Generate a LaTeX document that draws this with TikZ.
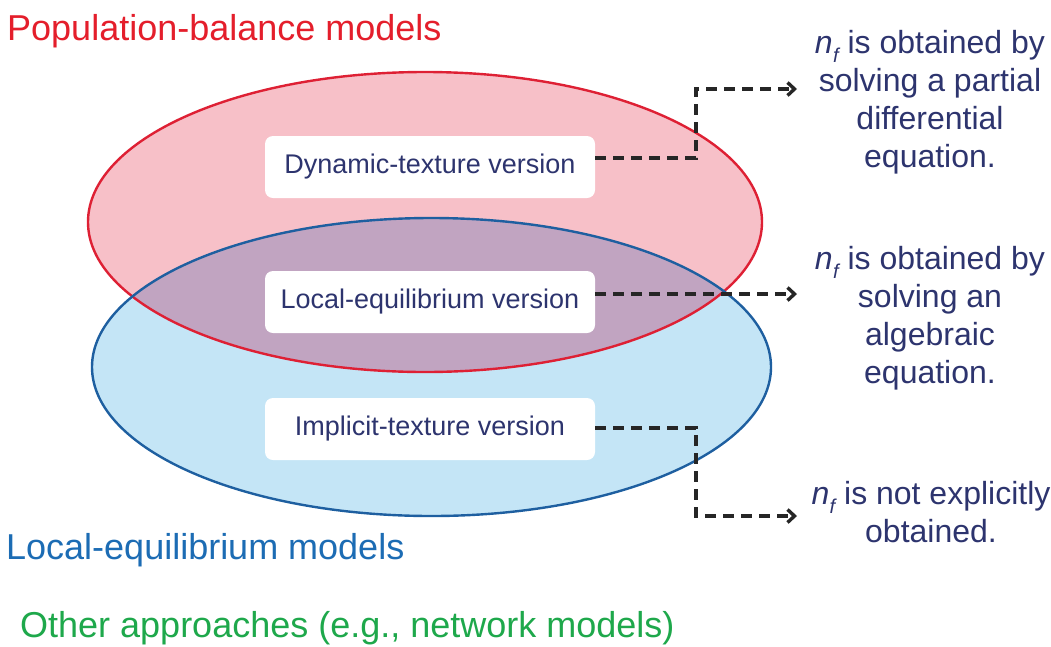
\documentclass[tikz,border=0pt]{standalone}
\usepackage{fontspec}
\setmainfont{Liberation Sans}
\usetikzlibrary{arrows.meta}
\definecolor{redline}{RGB}{222,32,52}
\definecolor{blueline}{RGB}{30,95,160}
\definecolor{pinkfill}{RGB}{247,192,200}
\definecolor{bluefill}{RGB}{196,229,246}
\definecolor{overlapfill}{RGB}{193,164,193}
\definecolor{navytext}{RGB}{45,52,110}
\definecolor{titlered}{RGB}{228,30,43}
\definecolor{labelblue}{RGB}{28,108,180}
\definecolor{labelgreen}{RGB}{30,168,75}
\newcommand{\nfsym}{{\itshape n\kern0.01em\raisebox{-0.28em}{\fontsize{20}{20}\selectfont f}}}
\tikzset{
  bigfont/.style={font=\fontsize{36}{36}\selectfont},
  boxtext/.style={fill=white, rounded corners=8pt, minimum width=330pt, minimum height=62pt,
     inner sep=0pt, text=navytext, font=\fontsize{27}{27}\selectfont},
  resulttext/.style={align=center, text=navytext, inner sep=0pt,
     font=\fontsize{32}{37.7}\selectfont},
  conn/.style={draw=black!85, line width=3.4pt, dash pattern=on 11pt off 7pt,
     -{Straight Barb[length=7pt,width=13pt,line width=3.4pt]}},
}
\begin{document}
\begin{tikzpicture}[x=1pt,y=-1pt]
\useasboundingbox (0,0) rectangle (1051,646);
% ellipses
\fill[bluefill] (431.5,367) ellipse [x radius=339.5, y radius=149];
\fill[pinkfill] (425,222) ellipse [x radius=337, y radius=150];
\begin{scope}
  \clip (425,222) ellipse [x radius=337, y radius=150];
  \fill[overlapfill] (431.5,367) ellipse [x radius=339.5, y radius=149];
\end{scope}
\draw[redline, line width=2.4pt] (425,222) ellipse [x radius=337, y radius=150];
\draw[blueline, line width=2.4pt] (431.5,367) ellipse [x radius=339.5, y radius=149];
% boxes
\node[boxtext] (dyn) at (430,167) {Dynamic-texture version};
\node[boxtext] (loc) at (430,302) {Local-equilibrium version};
\node[boxtext] (imp) at (430,429) {Implicit-texture version};
% labels
\node[bigfont, text=titlered, anchor=base west, inner sep=0pt] (pbm) at (7,40) {Population-balance models};
\node[bigfont, text=labelblue, anchor=base west, inner sep=0pt] (lem) at (6,559) {Local-equilibrium models};
\node[bigfont, text=labelgreen, anchor=base west, inner sep=0pt] (oth) at (20,637) {Other approaches (e.g., network models)};
% result texts (anchor base = baseline of last line)
\node[resulttext, anchor=base] (r1) at (930,167) {\nfsym\ is obtained by\\solving a partial\\differential\\equation.};
\node[resulttext, anchor=base] (r2) at (930,383) {\nfsym\ is obtained by\\solving an\\algebraic\\equation.};
\node[resulttext, anchor=base] (r3) at (931,542) {\nfsym\ is not explicitly\\obtained.};
% arrow end points
\coordinate (e1) at (797,89);
\coordinate (e2) at (797,294);
\coordinate (e3) at (797,516);
\draw[conn] (dyn.east |- 0,158) -- (696,158) -- (696,89) -- (e1);
\draw[conn] (loc.east |- 0,294) -- (e2);
\draw[conn] (imp.east |- 0,428) -- (696,428) -- (696,516) -- (e3);
\end{tikzpicture}
\end{document}
